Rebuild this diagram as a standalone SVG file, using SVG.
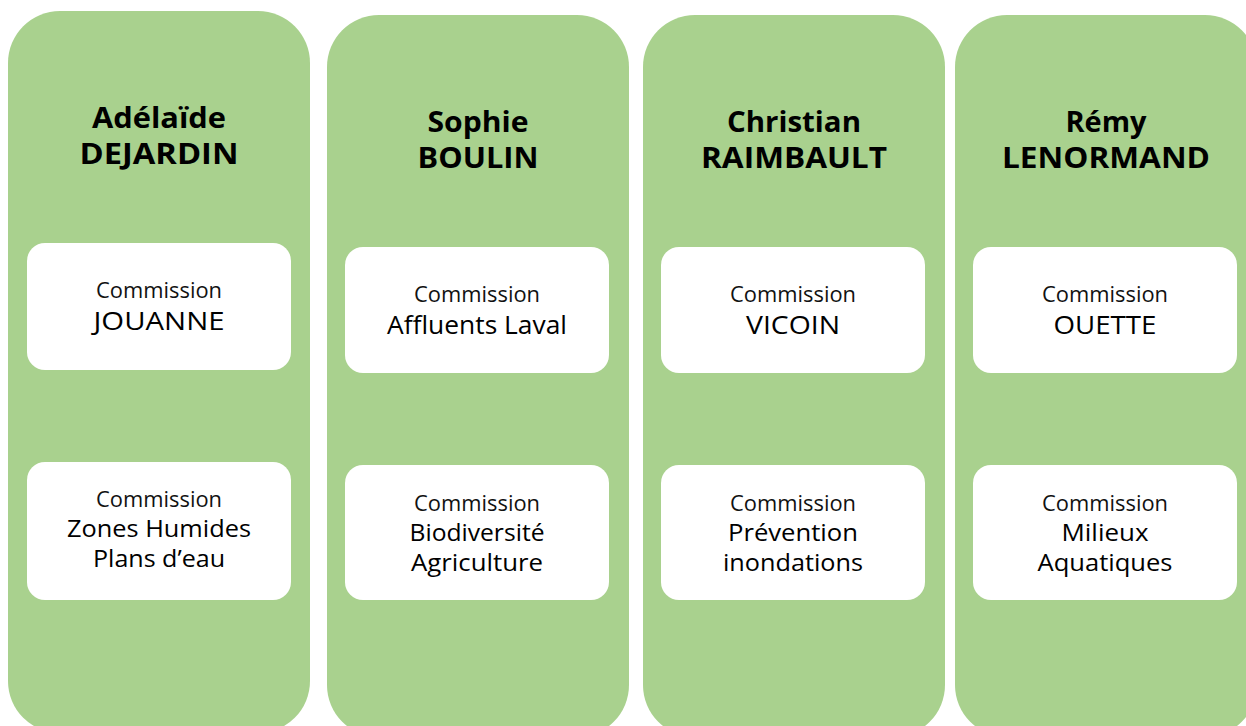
<svg xmlns="http://www.w3.org/2000/svg" width="1246" height="726" viewBox="0 0 1246 726">
<style>
.col{fill:#A9D18E}
.box{fill:#FFFFFF}
.name{font-family:"Open Sans","Liberation Sans",sans-serif;font-weight:700;font-size:29px;fill:#000;text-anchor:middle}
.lbl{font-family:"Open Sans","Liberation Sans",sans-serif;font-size:21px;fill:#111;text-anchor:middle}
.big{font-family:"Open Sans","Liberation Sans",sans-serif;font-size:25px;fill:#000;text-anchor:middle}
.two{font-family:"Open Sans","Liberation Sans",sans-serif;font-size:23px;fill:#000;text-anchor:middle}
</style>
<rect width="1246" height="726" fill="#FFFFFF"/>
<g id="connectors"></g>
<g id="col-dejardin">
<rect class="col" x="8" y="11" width="302" height="722" rx="52"/>
<text class="name" x="159" y="128" textLength="134" lengthAdjust="spacingAndGlyphs">Adélaïde</text>
<text class="name" x="159" y="164" textLength="159" lengthAdjust="spacingAndGlyphs">DEJARDIN</text>
</g>
<g id="box-jouanne">
<rect class="box" x="27" y="243" width="264" height="127" rx="18"/>
<text class="lbl" x="159" y="298" textLength="126" lengthAdjust="spacingAndGlyphs">Commission</text>
<text class="big" x="159" y="330" textLength="131" lengthAdjust="spacingAndGlyphs">JOUANNE</text>
</g>
<g id="box-zones-humides">
<rect class="box" x="27" y="462" width="264" height="138" rx="18"/>
<text class="lbl" x="159" y="507" textLength="126" lengthAdjust="spacingAndGlyphs">Commission</text>
<text class="two" x="159" y="537" textLength="184" lengthAdjust="spacingAndGlyphs">Zones Humides</text>
<text class="two" x="159" y="567" textLength="132" lengthAdjust="spacingAndGlyphs">Plans d’eau</text>
</g>
<g id="col-boulin">
<rect class="col" x="327" y="15" width="302" height="722" rx="52"/>
<text class="name" x="478" y="132" textLength="101" lengthAdjust="spacingAndGlyphs">Sophie</text>
<text class="name" x="478" y="168" textLength="121" lengthAdjust="spacingAndGlyphs">BOULIN</text>
</g>
<g id="box-affluents">
<rect class="box" x="345" y="247" width="264" height="126" rx="18"/>
<text class="lbl" x="477" y="302" textLength="126" lengthAdjust="spacingAndGlyphs">Commission</text>
<text class="big" x="477" y="334" textLength="180" lengthAdjust="spacingAndGlyphs">Affluents Laval</text>
</g>
<g id="box-biodiversite">
<rect class="box" x="345" y="465" width="264" height="135" rx="18"/>
<text class="lbl" x="477" y="511" textLength="126" lengthAdjust="spacingAndGlyphs">Commission</text>
<text class="two" x="477" y="541" textLength="135" lengthAdjust="spacingAndGlyphs">Biodiversité</text>
<text class="two" x="477" y="571" textLength="132" lengthAdjust="spacingAndGlyphs">Agriculture</text>
</g>
<g id="col-raimbault">
<rect class="col" x="643" y="15" width="302" height="722" rx="52"/>
<text class="name" x="794" y="132" textLength="134" lengthAdjust="spacingAndGlyphs">Christian</text>
<text class="name" x="794" y="168" textLength="186" lengthAdjust="spacingAndGlyphs">RAIMBAULT</text>
</g>
<g id="box-vicoin">
<rect class="box" x="661" y="247" width="264" height="126" rx="18"/>
<text class="lbl" x="793" y="302" textLength="126" lengthAdjust="spacingAndGlyphs">Commission</text>
<text class="big" x="793" y="334" textLength="94" lengthAdjust="spacingAndGlyphs">VICOIN</text>
</g>
<g id="box-prevention">
<rect class="box" x="661" y="465" width="264" height="135" rx="18"/>
<text class="lbl" x="793" y="511" textLength="126" lengthAdjust="spacingAndGlyphs">Commission</text>
<text class="two" x="793" y="541" textLength="130" lengthAdjust="spacingAndGlyphs">Prévention</text>
<text class="two" x="793" y="571" textLength="140" lengthAdjust="spacingAndGlyphs">inondations</text>
</g>
<g id="col-lenormand">
<rect class="col" x="955" y="15" width="302" height="722" rx="52"/>
<text class="name" x="1106" y="132" textLength="81" lengthAdjust="spacingAndGlyphs">Rémy</text>
<text class="name" x="1106" y="168" textLength="208" lengthAdjust="spacingAndGlyphs">LENORMAND</text>
</g>
<g id="box-ouette">
<rect class="box" x="973" y="247" width="264" height="126" rx="18"/>
<text class="lbl" x="1105" y="302" textLength="126" lengthAdjust="spacingAndGlyphs">Commission</text>
<text class="big" x="1105" y="334" textLength="103" lengthAdjust="spacingAndGlyphs">OUETTE</text>
</g>
<g id="box-milieux">
<rect class="box" x="973" y="465" width="264" height="135" rx="18"/>
<text class="lbl" x="1105" y="511" textLength="126" lengthAdjust="spacingAndGlyphs">Commission</text>
<text class="two" x="1105" y="541" textLength="87" lengthAdjust="spacingAndGlyphs">Milieux</text>
<text class="two" x="1105" y="571" textLength="135" lengthAdjust="spacingAndGlyphs">Aquatiques</text>
</g>
</svg>
